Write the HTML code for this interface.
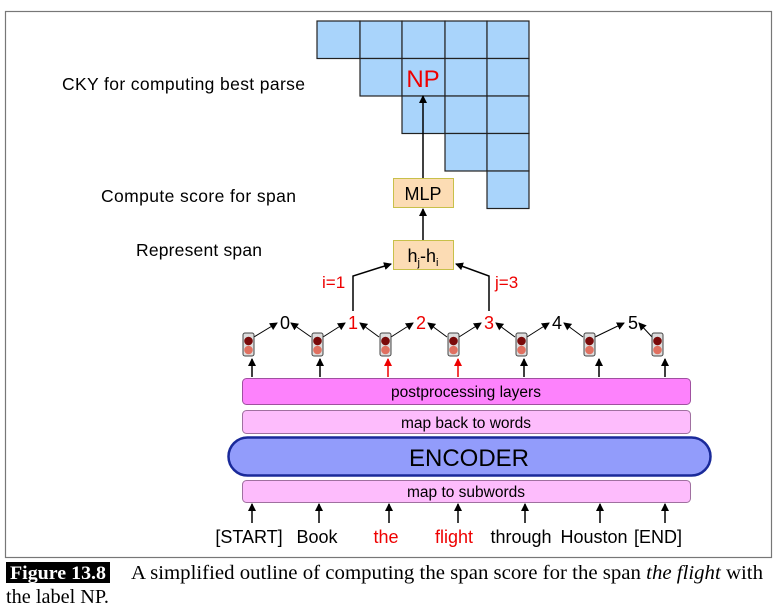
<!DOCTYPE html>
<html><head><meta charset="utf-8"><style>
body{margin:0;background:#fff;}
svg text{font-family:"Liberation Sans",sans-serif;}
svg text.s{font-family:"Liberation Serif",serif;}
</style></head><body>
<svg width="775" height="611" xmlns="http://www.w3.org/2000/svg">
<defs><marker id="a" markerWidth="8" markerHeight="8" refX="7" refY="4" orient="auto" markerUnits="userSpaceOnUse"><path d="M0,0 L8,4 L0,8 Z" fill="#000"/></marker>
<marker id="r" markerWidth="8" markerHeight="8" refX="7" refY="4" orient="auto" markerUnits="userSpaceOnUse"><path d="M0,0 L8,4 L0,8 Z" fill="#e00"/></marker></defs>
<rect x="5.5" y="11.5" width="766" height="546" fill="#fff" stroke="#777" stroke-width="1.2"/>
<g fill="#a9d4fb" stroke="#222" stroke-width="1.2">
<rect x="317" y="21" width="43" height="37.5"/><rect x="360" y="21" width="42" height="37.5"/><rect x="402" y="21" width="43" height="37.5"/><rect x="445" y="21" width="42" height="37.5"/><rect x="487" y="21" width="42" height="37.5"/>
<rect x="360" y="58.5" width="42" height="37.5"/><rect x="402" y="58.5" width="43" height="37.5"/><rect x="445" y="58.5" width="42" height="37.5"/><rect x="487" y="58.5" width="42" height="37.5"/>
<rect x="402" y="96" width="43" height="37.5"/><rect x="445" y="96" width="42" height="37.5"/><rect x="487" y="96" width="42" height="37.5"/>
<rect x="445" y="133.5" width="42" height="37.5"/><rect x="487" y="133.5" width="42" height="37.5"/>
<rect x="487" y="171" width="42" height="37.5"/>
</g>
<text x="423" y="87" font-size="24" fill="#e00" text-anchor="middle">NP</text>
<text x="62" y="90" font-size="17.5" textLength="243">CKY for computing best parse</text>
<text x="101" y="202" font-size="17.5" textLength="195">Compute score for span</text>
<text x="136" y="256" font-size="17.5" textLength="126">Represent span</text>
<line x1="423" y1="178" x2="423" y2="96" stroke="#000" stroke-width="1.5" marker-end="url(#a)"/>
<rect x="393.5" y="178.5" width="60" height="29" fill="#fcdcb4" stroke="#c8c04a"/>
<text x="423" y="200" font-size="18" text-anchor="middle">MLP</text>
<line x1="423" y1="240" x2="423" y2="209" stroke="#000" stroke-width="1.5" marker-end="url(#a)"/>
<rect x="393.5" y="240.5" width="60" height="29" fill="#fcdcb4" stroke="#c8c04a"/>
<text x="423" y="262" font-size="18" text-anchor="middle">h<tspan font-size="11" dy="4">j</tspan><tspan dy="-4">-h</tspan><tspan font-size="11" dy="4">i</tspan></text>
<polyline points="353,311 353,276 391,264" fill="none" stroke="#000" stroke-width="1.5" marker-end="url(#a)"/>
<polyline points="489,311 489,276 456,264" fill="none" stroke="#000" stroke-width="1.5" marker-end="url(#a)"/>
<text x="322" y="288" font-size="17" fill="#e00">i=1</text>
<text x="495" y="288" font-size="17" fill="#e00">j=3</text>
<g font-size="18" text-anchor="middle">
<text x="285" y="329">0</text><text x="353" y="329" fill="#e00">1</text><text x="421" y="329" fill="#e00">2</text><text x="489" y="329" fill="#e00">3</text><text x="557" y="329">4</text><text x="633" y="329">5</text>
</g>
<g stroke="#000" stroke-width="1" marker-end="url(#a)">
<line x1="254" y1="337" x2="277" y2="323"/><line x1="311" y1="337" x2="291" y2="323"/>
<line x1="323" y1="337" x2="345" y2="323"/><line x1="379" y1="337" x2="360" y2="323"/>
<line x1="391" y1="337" x2="413" y2="323"/><line x1="447" y1="337" x2="428" y2="323"/>
<line x1="459" y1="337" x2="481" y2="323"/><line x1="515" y1="337" x2="496" y2="323"/>
<line x1="527" y1="337" x2="549" y2="323"/><line x1="583" y1="337" x2="564" y2="323"/>
<line x1="595" y1="337" x2="624" y2="323"/><line x1="652" y1="337" x2="639" y2="323"/>
</g>
<g>
<g id="tl"><rect x="243" y="333" width="11" height="23" rx="2" fill="#ddd" stroke="#444"/><circle cx="248.5" cy="341" r="4.3" fill="#7a0a0a"/><circle cx="248.5" cy="350" r="4.3" fill="#e07060"/></g>
<use href="#tl" x="69"/><use href="#tl" x="137"/><use href="#tl" x="205"/><use href="#tl" x="273"/><use href="#tl" x="341"/><use href="#tl" x="409"/>
</g>
<g stroke-width="1.5">
<line x1="252" y1="377" x2="252" y2="359" stroke="#000" marker-end="url(#a)"/>
<line x1="320" y1="377" x2="320" y2="359" stroke="#000" marker-end="url(#a)"/>
<line x1="388" y1="377" x2="388" y2="359" stroke="#e00" marker-end="url(#r)"/>
<line x1="458" y1="377" x2="458" y2="359" stroke="#e00" marker-end="url(#r)"/>
<line x1="524" y1="377" x2="524" y2="359" stroke="#000" marker-end="url(#a)"/>
<line x1="599" y1="377" x2="599" y2="359" stroke="#000" marker-end="url(#a)"/>
<line x1="665" y1="377" x2="665" y2="359" stroke="#000" marker-end="url(#a)"/>
</g>
<rect x="242.5" y="378.5" width="448" height="26" rx="4" fill="#fd82fc" stroke="#a050a0"/>
<text x="466" y="397" font-size="15.5" text-anchor="middle">postprocessing layers</text>
<rect x="242.5" y="410.5" width="448" height="23" rx="4" fill="#fdbcfc" stroke="#a070a0"/>
<text x="466" y="428" font-size="15.5" text-anchor="middle">map back to words</text>
<rect x="228.5" y="437.5" width="482" height="38" rx="19" fill="#929cfb" stroke="#1a2a9a" stroke-width="2.5"/>
<text x="469" y="466" font-size="24" text-anchor="middle">ENCODER</text>
<rect x="242.5" y="480.5" width="448" height="22" rx="4" fill="#fdbcfc" stroke="#a070a0"/>
<text x="466" y="497" font-size="15.5" text-anchor="middle">map to subwords</text>
<g stroke="#000" stroke-width="1.5" marker-end="url(#a)">
<line x1="252" y1="523" x2="252" y2="504"/><line x1="319" y1="523" x2="319" y2="504"/><line x1="389" y1="523" x2="389" y2="504"/><line x1="458" y1="523" x2="458" y2="504"/><line x1="525" y1="523" x2="525" y2="504"/><line x1="600" y1="523" x2="600" y2="504"/><line x1="665" y1="523" x2="665" y2="504"/>
</g>
<g font-size="18" text-anchor="middle">
<text x="249" y="543">[START]</text><text x="317" y="543">Book</text><text x="386" y="543" fill="#e00">the</text><text x="454" y="543" fill="#e00">flight</text><text x="521" y="543">through</text><text x="594" y="543">Houston</text><text x="658" y="543">[END]</text>
</g>
<rect x="6" y="562" width="104" height="21" fill="#000"/>
<text class="s" x="10" y="579" font-size="19" font-weight="bold" fill="#fff" textLength="96" lengthAdjust="spacingAndGlyphs">Figure 13.8</text>
<text class="s" x="131" y="579" font-size="20" textLength="632" lengthAdjust="spacingAndGlyphs">A simplified outline of computing the span score for the span <tspan font-style="italic">the flight</tspan> with</text>
<text class="s" x="6" y="603" font-size="20" textLength="103" lengthAdjust="spacingAndGlyphs">the label NP.</text>
</svg>
</body></html>
